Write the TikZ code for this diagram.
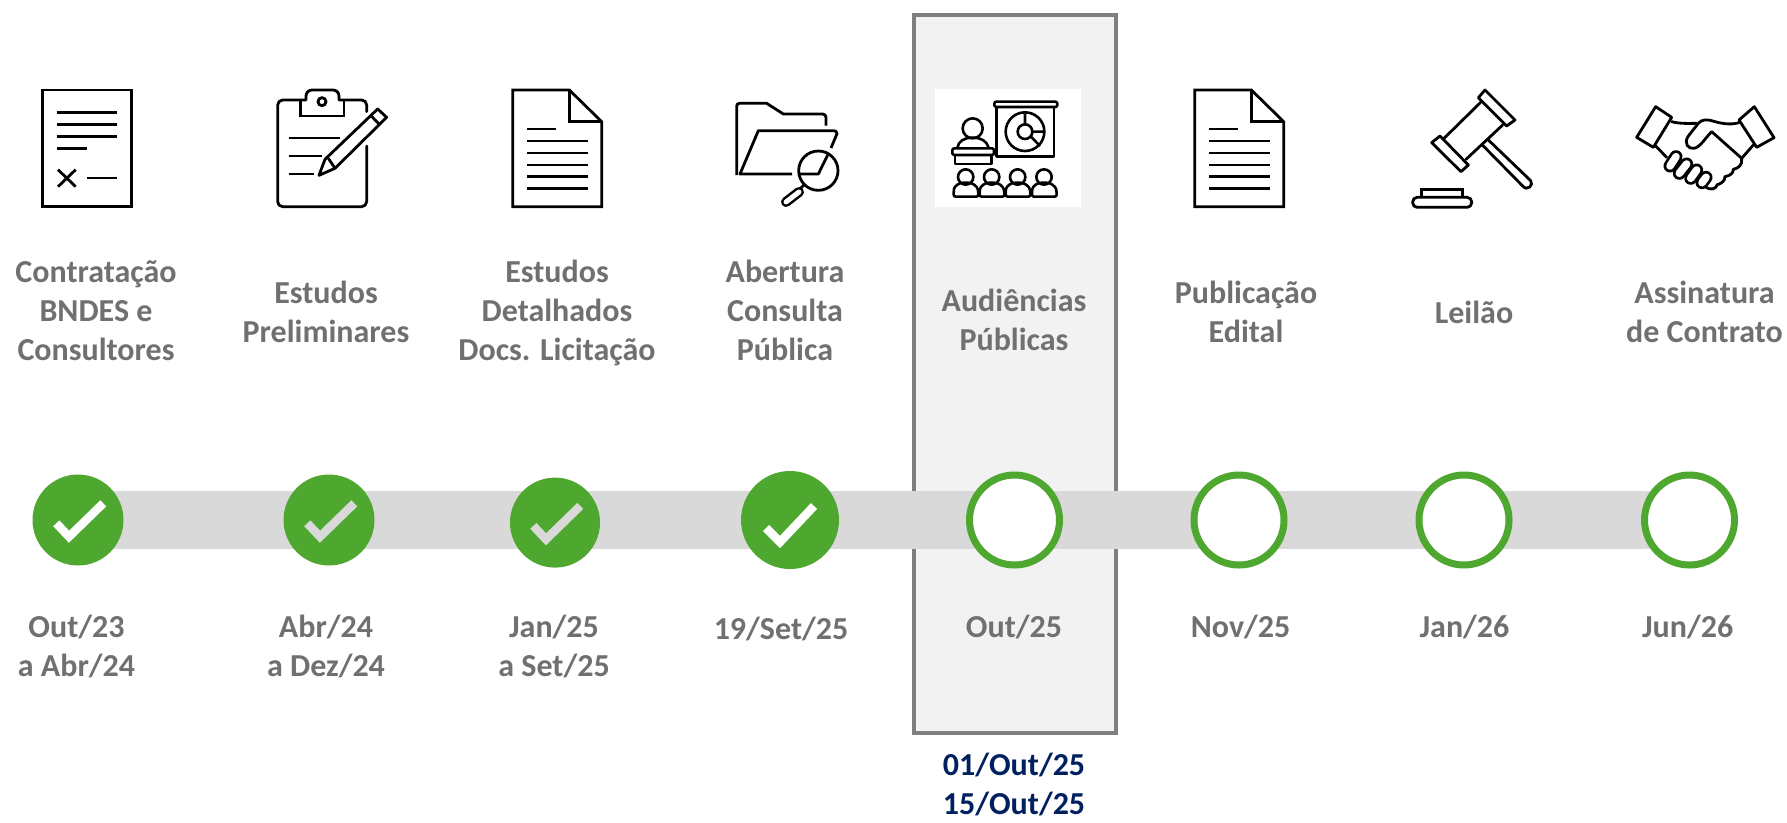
\documentclass[tikz,border=0pt]{standalone}
\usepackage{fontspec}
\setmainfont{Carlito}
\definecolor{lbl}{HTML}{707070}
\definecolor{navy}{HTML}{002060}
\definecolor{grn}{HTML}{4EA72E}
\definecolor{barc}{HTML}{D9D9D9}
\definecolor{panelf}{HTML}{F2F2F2}
\definecolor{panelb}{HTML}{7F7F7F}
\pgfdeclarelayer{panel}\pgfdeclarelayer{track}
\pgfsetlayers{panel,track,main}
\tikzset{
  lab/.style={align=center,inner sep=0pt,text=lbl,font=\bfseries\fontsize{32}{39}\selectfont,execute at begin node=\strut,execute at end node=\strut},
  navylab/.style={lab,text=navy},
  done/.style={circle,fill=grn,inner sep=0pt,minimum size=#1},
  open/.style={circle,draw=grn,fill=white,line width=7pt,inner sep=0pt,minimum size=90pt},
  tick/.style={line width=8.5pt,miter limit=10},
  ico/.style={draw=black,line width=2.8pt,line cap=butt,line join=miter},
  icor/.style={draw=black,line width=2.8pt,line cap=round,line join=round},
  zoomed/.style={shift={#1},scale=0.33333},
}
\begin{document}
\begin{tikzpicture}[x=1pt,y=-1pt]
\useasboundingbox (0,0) rectangle (1787,822);
% panel
\begin{pgfonlayer}{panel}
\node[draw=panelb,fill=panelf,line width=4pt,minimum width=201.5pt,minimum height=718pt,inner sep=0pt] (panel) at (1015.2,373.5) {};
\end{pgfonlayer}
% steps
\node[done=91pt] (c1) at (78,520) {};
\node[done=91pt] (c2) at (329,520) {};
\node[done=90pt] (c3) at (555,522.6) {};
\node[done=98pt] (c4) at (790,520) {};
\node[open] (c5) at (1014.5,520) {};
\node[open] (c6) at (1239,520) {};
\node[open] (c7) at (1464,520) {};
\node[open] (c8) at (1689.5,520) {};
\begin{pgfonlayer}{track}
\draw[barc,line width=58pt] (c1.center) -- (c8.center);
\end{pgfonlayer}
% checks
\draw[tick,white] ([shift={(-21.7,3.3)}]c1.center) -- ([shift={(-9,16.7)}]c1.center) -- ([shift={(25.3,-16.7)}]c1.center);
\draw[tick,barc] ([shift={(-21.7,3.3)}]c2.center) -- ([shift={(-9,16.7)}]c2.center) -- ([shift={(25.3,-16.7)}]c2.center);
\draw[tick,barc] ([shift={(-21.7,3.3)}]c3.center) -- ([shift={(-9,16.7)}]c3.center) -- ([shift={(25.3,-16.7)}]c3.center);
\draw[tick,white] ([shift={(-24,8)}]c4.center) -- ([shift={(-10,22)}]c4.center) -- ([shift={(24,-14)}]c4.center);
% titles
\node[lab] (t1) at (96,316.2) {Contratação\\BNDES e\\Consultores};
\node[lab] (t2) at (326,317.9) {Estudos\\Preliminares};
\node[lab] (t3) at (557,316.2) {Estudos\\Detalhados\\Docs. Licitação};
\node[lab] (t4) at (785,315.7) {Abertura\\Consulta\\Pública};
\node[lab] (t5) at (1014,325.2) {Audiências\\Públicas};
\node[lab] (t6) at (1246,317.4) {Publicação\\Edital};
\node[lab] (t7) at (1474,315.2) {Leilão};
\node[lab] (t8) at (1704.5,317.4) {Assinatura\\de Contrato};
% dates
\node[lab] (d1) at (76.5,651.5) {Out/23\\a Abr/24};
\node[lab] (d2) at (326,651.5) {Abr/24\\a Dez/24};
\node[lab] (d3) at (554,651.5) {Jan/25\\a Set/25};
\node[lab] (d4) at (781,631.7) {19/Set/25};
\node[lab] (d5) at (1014,630) {Out/25};
\node[lab] (d6) at (1240.6,629.4) {Nov/25};
\node[lab] (d7) at (1464.5,629.4) {Jan/26};
\node[lab] (d8) at (1687.6,629.4) {Jun/26};
\node[navylab] (n5) at (1014,789.5) {01/Out/25\\15/Out/25};
% icon 1: signed document
\begin{scope}[zoomed={(0,60)}]
\draw[ico] (127,90) rectangle (395,440);
\draw[ico] (170,158) -- (352,158) (170,193) -- (352,193) (170,229) -- (352,229) (170,265) -- (261,265) (262,354) -- (352,354);
\draw[ico] (174,329) -- (227,380) (227,329) -- (174,380);
\end{scope}
% icon 2: clipboard
\begin{scope}[zoomed={(0,60)}]
\draw[icor] (1100,155) -- (1100,135) arc (0:-90:15) -- (1017,120) -- (1017,108) arc (0:-90:18) -- (936,90) arc (-90:-180:18) -- (918,120) -- (848,120) arc (-90:-180:15) -- (833,425) arc (180:90:15) -- (1085,440) arc (90:0:15) -- (1100,258);
\draw[ico] (902,120) -- (902,168) -- (1032,168) -- (1032,120);
\draw[ico] (966,125) circle (12);
\draw[ico] (866,234) -- (1020,234) (866,288) -- (965,288) (866,342) -- (942,342);
\draw[icor] (957,346) -- (975,298) -- (1133,147) -- (1160,172) -- (1005,325) -- cycle;
\draw[ico] (1113,167) -- (1140,195);
\draw[ico] (985,295) -- (1005,325);
\end{scope}
% icon 3 and 6: documents
\foreach \ox/\nm in {480/a,1162/b}{
\begin{scope}[zoomed={(\ox,60)}]
\draw[ico] (98,90) -- (268,90) -- (365,185) -- (365,440) -- (98,440) -- cycle;
\draw[ico] (268,90) -- (268,185) -- (365,185);
\draw[ico] (142,207) -- (227,207) (142,243) -- (323,243) (142,279) -- (323,279) (142,315) -- (323,315) (142,350) -- (323,350) (142,386) -- (323,386);
\end{scope}}
% icon 4: folder
\begin{scope}[zoomed={(480,60)}]
\draw[icor,line cap=butt] (770,345) -- (770,138) arc (180:270:8) -- (860,130) -- (910,162) -- (1028,162) arc (-90:0:10) -- (1038,197);
\draw[icor,line cap=butt] (936,342) -- (780,342) -- (835,212) -- (1062,212) arc (-90:0:9) -- (1053,264);
\draw[icor,line cap=butt] (1043,285) -- (1015,342) -- (955,342);
\draw[ico] (1015,332) circle (59);
\draw[ico] (972,375) -- (958,388);
\draw[black,line width=10pt,line cap=round] (957,396) -- (918,426);
\draw[white,line width=5pt,line cap=round] (957,396) -- (918,426);
\end{scope}
% icon 5: presentation
\fill[white] (935,89) rectangle (1081,206.7);
\begin{scope}[zoomed={(900,60)},every path/.append style={draw=black,line width=2.6pt,line join=round}]
\draw[rounded corners=2pt] (283,125) rectangle (472,141);
\draw (290,141) -- (290,290) -- (462,290) -- (462,141);
\draw (375,215) circle (58) (375,215) circle (22);
\draw (375,160) -- (375,193) (397,215) -- (432,215) (393,230) -- (420,258);
\draw (218,205) circle (30);
\draw (172,263) .. controls (176,243) and (192,233) .. (218,233) .. controls (244,233) and (260,243) .. (266,263);
\draw[rounded corners=2pt] (157,265) rectangle (282,285);
\draw (165,285) -- (165,312) -- (275,312) -- (275,285);
\foreach \cx in {197,275,353,432}{
\draw (\cx,351) circle (23);
\draw[rounded corners=2pt] (\cx-36,410) -- (\cx-36,394) .. controls (\cx-34,378) and (\cx-20,368) .. (\cx,368) .. controls (\cx+20,368) and (\cx+34,378) .. (\cx+38,394) -- (\cx+38,410) -- cycle;
}
\end{scope}
% icon 7: gavel
\begin{scope}[zoomed={(1390,60)}]
\draw[icor] (285,90) -- (375,180) -- (350,198) -- (265,113) -- cycle;
\draw[icor] (150,228) -- (235,315) -- (213,335) -- (125,248) -- cycle;
\draw[icor] (272,127) -- (162,235) (338,195) -- (228,298);
\draw[icor] (295,240) -- (422,362) .. controls (432,375) and (412,395) .. (398,378) -- (278,256);
\draw[icor,rounded corners=4.5pt] (68,412) rectangle (245,442);
\draw[ico] (95,412) -- (95,389) -- (217,389) -- (217,412);
\end{scope}
% icon 8: handshake
\begin{scope}[zoomed={(1390,60)}]
\draw[icor] (797,140) -- (845,172) -- (790,262) -- (740,232) -- cycle;
\draw[icor] (1093,140) -- (1152,233) -- (1100,262) -- (1047,180) -- cycle;
\draw[icor] (845,185) .. controls (870,192) and (900,190) .. (920,190);
\draw[icor] (797,258) -- (830,292);
\draw[icor] (1055,295) -- (1090,255);
\draw[icor] (895,228) -- (925,190) .. controls (935,178) and (950,178) .. (965,182) .. controls (990,190) and (1020,196) .. (1047,188);
\draw[icor] (895,228) .. controls (880,250) and (895,268) .. (912,265) .. controls (930,262) and (945,235) .. (965,215) -- (1055,295);
\draw[icor] (1055,295) .. controls (1058,315) and (1045,325) .. (1030,328) .. controls (1030,340) and (1020,347) .. (1005,350) .. controls (1005,365) and (990,372) .. (982,374) .. controls (978,388) and (960,392) .. (945,380);
\foreach \ax/\ay/\bx/\by in {948/352/936/368,920/330/902/355,890/312/868/340,858/290/840/318}{
\draw[black,line width=13pt,line cap=round] (\ax,\ay) -- (\bx,\by);
\draw[white,line width=7.6pt,line cap=round] (\ax,\ay) -- (\bx,\by);
}
\end{scope}
\end{tikzpicture}
\end{document}
